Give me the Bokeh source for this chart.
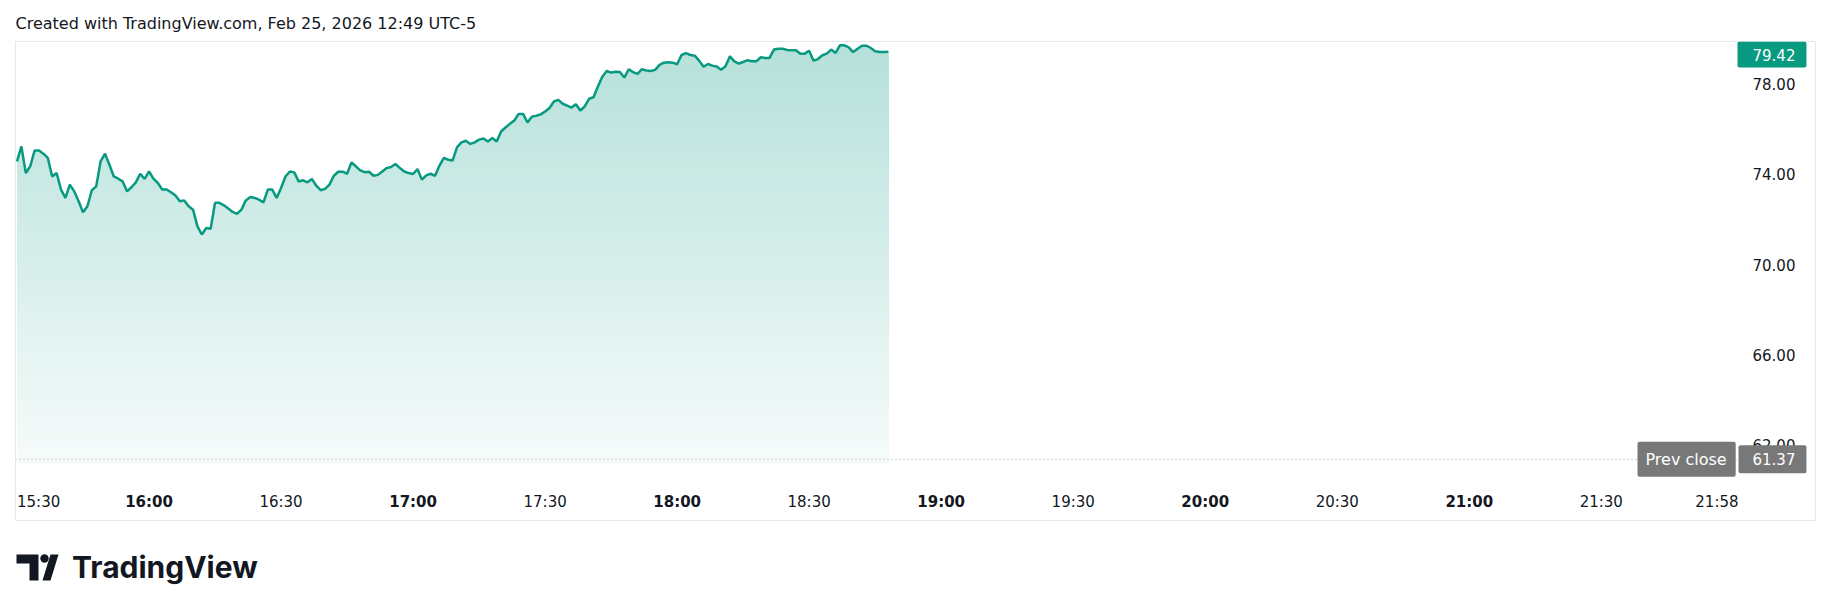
import numpy as np
import pandas as pd
from bokeh.plotting import figure
from bokeh.layouts import column
from bokeh.models import Range1d, Label
from bokeh.core.properties import value
from bokeh.embed import file_html
from bokeh.resources import INLINE

# ---------------- data ----------------
caption = "Created with TradingView.com, Feb 25, 2026 12:49 UTC-5"
brand = "TradingView"
start_time = "2026-02-25 15:30"
prices = [
    74.57, 75.23, 74.05, 74.35, 75.05, 75.05, 74.91, 74.72, 73.90, 74.05,
    73.32, 72.95, 73.54, 73.24, 72.80, 72.31, 72.58, 73.29, 73.46, 74.57,
    74.91, 74.42, 73.90, 73.80, 73.68, 73.24, 73.42, 73.64, 74.02, 73.79,
    74.12, 73.80, 73.61, 73.32, 73.32, 73.20, 73.06, 72.80, 72.84, 72.58,
    72.43, 71.69, 71.33, 71.62, 71.58, 72.73, 72.73, 72.62, 72.48, 72.33,
    72.24, 72.43, 72.84, 72.99, 72.95, 72.87, 72.75, 73.32, 73.32, 72.95,
    73.39, 73.90, 74.12, 74.08, 73.68, 73.73, 73.64, 73.79, 73.49, 73.29,
    73.35, 73.54, 73.93, 74.11, 74.11, 74.02, 74.52, 74.35, 74.17, 74.09,
    74.11, 73.93, 73.97, 74.12, 74.27, 74.32, 74.45, 74.27, 74.12, 74.05,
    74.01, 74.23, 73.76, 73.95, 74.02, 73.93, 74.38, 74.72, 74.64, 74.61,
    75.20, 75.41, 75.48, 75.34, 75.41, 75.53, 75.58, 75.45, 75.60, 75.45,
    75.89, 76.07, 76.23, 76.38, 76.67, 76.67, 76.29, 76.55, 76.59, 76.65,
    76.78, 76.93, 77.22, 77.29, 77.12, 77.04, 76.95, 77.10, 76.82, 77.00,
    77.34, 77.41, 77.88, 78.32, 78.57, 78.50, 78.54, 78.53, 78.28, 78.65,
    78.52, 78.44, 78.65, 78.59, 78.57, 78.62, 78.84, 78.94, 78.96, 78.94,
    78.87, 79.28, 79.36, 79.28, 79.25, 79.03, 78.76, 78.88, 78.81, 78.77,
    78.63, 78.78, 79.22, 79.00, 78.90, 78.97, 79.05, 79.00, 79.00, 79.18,
    79.15, 79.15, 79.52, 79.56, 79.56, 79.50, 79.49, 79.49, 79.34, 79.34,
    79.47, 79.03, 79.10, 79.27, 79.34, 79.52, 79.37, 79.71, 79.71, 79.62,
    79.41, 79.56, 79.69, 79.69, 79.59, 79.45, 79.41, 79.41, 79.42,
]
last_price = 79.42
prev_close = 61.37
price_ticks = [62, 66, 70, 74, 78]
time_labels = ["15:30", "16:00", "16:30", "17:00", "17:30", "18:00", "18:30",
               "19:00", "19:30", "20:00", "20:30", "21:00", "21:30", "21:58"]

# ---------------- styling / layout ----------------
FONT = "DejaVu Sans"
TXT = "#131722"
LINE = "#089981"
BORDER = "#e6e8ec"
GRAY_BADGE = "#787878"

times = pd.date_range(start_time, periods=len(prices), freq="min")
t0 = times[0]
x_start = t0 - pd.Timedelta(seconds=20.5)       # left edge of the chart box
pane_end = t0 + pd.Timedelta(minutes=391.2)     # right edge of the price pane
x_end = t0 + pd.Timedelta(minutes=408.9)        # right edge of the chart box
pane_bottom = 61.236                            # bottom of the price pane
y_top, y_bottom = 79.8775, 58.617               # chart box incl. time scale
PANE_W = 1722                                   # pane width in px (price scale starts here)

# ---------------- caption strip ----------------
ft = figure(width=1820, height=41, x_range=Range1d(0, 1820), y_range=Range1d(41, 0),
            output_backend="svg", toolbar_location=None, title=None,
            x_axis_location=None, y_axis_location=None, min_border=0)
ft.outline_line_color = None
ft.grid.visible = False
ft.text(x=[15], y=[23], text=[caption], text_font=value(FONT), text_font_size="16px",
        text_color=TXT, text_baseline="middle", text_align="left")

# ---------------- main chart box ----------------
p = figure(width=1801, height=480, x_range=Range1d(x_start, x_end), y_range=Range1d(y_bottom, y_top),
           x_axis_type="datetime", output_backend="svg", toolbar_location=None, title=None,
           x_axis_location=None, y_axis_location=None, min_border=0, margin=(0, 0, 0, 15))
p.outline_line_color = BORDER
p.outline_line_width = 1
p.grid.visible = False
p.background_fill_color = "white"
p.border_fill_color = "white"

# gradient area fill: stacked opaque layers, each clipped to a price level
pr = np.array(prices)
n_layers = 90
levels = np.linspace(y_top, pane_bottom, n_layers + 1)[:-1]
base = np.array([8, 153, 129], dtype=float)
for hi in levels:
    t = (y_top - hi) / (y_top - pane_bottom)
    a = 0.30 + (0.035 - 0.30) * t
    rgb = (255 * (1 - a) + base * a).round().astype(int)
    col = "#%02x%02x%02x" % tuple(rgb)
    p.varea(x=times, y1=np.full(len(pr), pane_bottom), y2=np.minimum(pr, hi),
            fill_color=col, fill_alpha=1.0)

p.line(x=times, y=prices, line_color=LINE, line_width=2.5)

# previous close dotted line across the pane
p.line(x=[x_start, pane_end], y=[prev_close, prev_close], line_color="#a3a6af",
       line_dash="1 3", line_width=1)

# price scale labels
for tk in price_ticks:
    p.add_layout(Label(x=PANE_W + 15, x_units="screen", y=tk, y_units="data",
                       text="%.2f" % tk, text_font=FONT, text_font_size="15px",
                       text_color=TXT, text_align="left", text_baseline="middle"))

# price badges (box starts at anchor; padding = left, right, top, bottom)
p.add_layout(Label(x=PANE_W, x_units="screen", y=last_price, y_units="data", y_offset=-2.7,
                   text="%.2f" % last_price, text_font=FONT, text_font_size="15px",
                   text_color="white", text_align="left", text_baseline="middle",
                   background_fill_color=LINE, border_radius=2, padding=(15, 11, 7, 7)))
p.add_layout(Label(x=PANE_W - 100, x_units="screen", y=prev_close, y_units="data",
                   text="Prev close", text_font=FONT, text_font_size="16px",
                   text_color="white", text_align="left", text_baseline="middle",
                   background_fill_color=GRAY_BADGE, border_radius=2, padding=(8, 9, 8, 8)))
p.add_layout(Label(x=PANE_W + 1, x_units="screen", y=prev_close, y_units="data",
                   text="%.2f" % prev_close, text_font=FONT, text_font_size="15px",
                   text_color="white", text_align="left", text_baseline="middle",
                   background_fill_color=GRAY_BADGE, border_radius=2, padding=(14, 11, 8, 8)))

# time scale labels
for i, lab in enumerate(time_labels):
    tt = pd.Timestamp(start_time[:11] + lab)
    bold = lab.endswith(":00")
    align, xoff = "center", 0
    if i == 0:
        align = "left"
    elif i == len(time_labels) - 1:
        align, xoff = "right", 14
    p.add_layout(Label(x=tt.value / 1e6, x_units="data", y=20, y_units="screen", x_offset=xoff,
                       text=lab, text_font=FONT, text_font_size="15px",
                       text_font_style="bold" if bold else "normal",
                       text_color=TXT, text_align=align, text_baseline="middle"))

# ---------------- logo strip ----------------
fl = figure(width=1820, height=85, x_range=Range1d(0, 1820), y_range=Range1d(85, 0),
            output_backend="svg", toolbar_location=None, title=None,
            x_axis_location=None, y_axis_location=None, min_border=0)
fl.outline_line_color = None
fl.grid.visible = False
fl.patch(x=[16, 38, 38, 29, 29, 16], y=[33, 33, 59, 59, 42, 42], fill_color="#131722", line_color=None)
fl.circle(x=[44], y=[37], radius=4.2, fill_color="#131722", line_color=None)
fl.patch(x=[42, 50, 58, 50], y=[59, 59, 33, 33], fill_color="#131722", line_color=None)
fl.text(x=[71.5], y=[45], text=[brand], text_font=value("Inter"), text_font_size="30px",
        text_font_style="bold", text_color="#131722", text_baseline="middle", text_align="left")

layout = column(ft, p, fl, spacing=0)
open("out.html", "w").write(file_html(layout, INLINE))
